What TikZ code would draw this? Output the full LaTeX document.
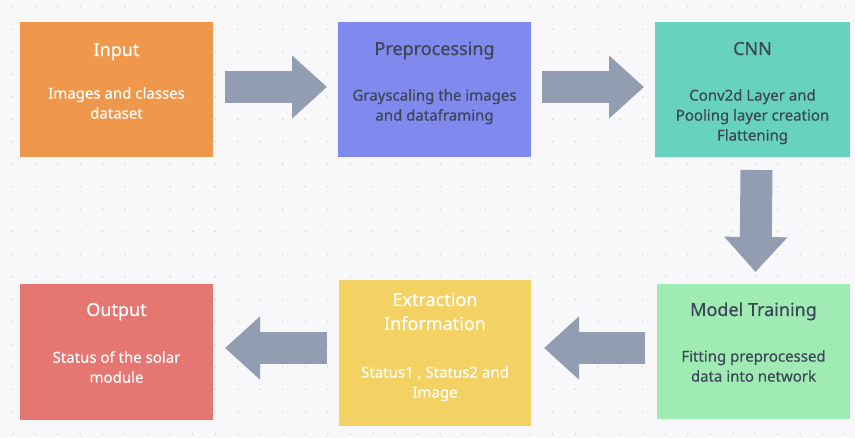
\documentclass[tikz,border=0pt]{standalone}
\usepackage{fontspec}
\setmainfont{Noto Sans}[FakeBold=0.35]
\usetikzlibrary{arrows.meta}
\definecolor{bgc}{HTML}{F8F8FA}
\definecolor{dotc}{HTML}{D6D7DE}
\definecolor{cin}{HTML}{EF974A}
\definecolor{cpre}{HTML}{7F89EE}
\definecolor{ccnn}{HTML}{66D2BF}
\definecolor{cmt}{HTML}{A0EBB4}
\definecolor{cext}{HTML}{F3D162}
\definecolor{cout}{HTML}{E57671}
\definecolor{carr}{HTML}{939DB1}
\definecolor{dtext}{HTML}{3B4656}
\tikzset{
  box/.style={draw=none, inner sep=0pt, outer sep=0pt, anchor=north west},
  ttl/.style={anchor=base, inner sep=0pt, font=\fontsize{18}{24}\selectfont, align=center},
  bdy/.style={anchor=north, inner sep=0pt, font=\fontsize{15}{20}\selectfont, align=center, execute at begin node=\strut},
  wt/.style={text=white},
  dk/.style={text=dtext},
  blockarrow/.style={draw=carr, line width=32pt, line cap=butt, -{Triangle[length=35pt,width=61pt]}},
}
\begin{document}
\begin{tikzpicture}[x=1pt,y=-1pt]
\fill[bgc] (0,0) rectangle (855,438);
\useasboundingbox (0,0) rectangle (855,438);
\foreach \i in {0,...,37} {
  \foreach \j in {0,...,19} {
    \fill[dotc] (12.7+22.5*\i, 6.7+22.5*\j) circle (0.9);
  }
}
% boxes
\node[box, fill=cin, minimum width=193pt, minimum height=135pt] (in) at (20,22) {};
\node[box, fill=cpre, minimum width=193pt, minimum height=135pt] (pre) at (338,22) {};
\node[box, fill=ccnn, minimum width=195pt, minimum height=135pt] (cnn) at (655,22) {};
\node[box, fill=cmt, minimum width=193pt, minimum height=135pt] (mt) at (657,284) {};
\node[box, fill=cext, minimum width=192pt, minimum height=146pt] (ext) at (339,280) {};
\node[box, fill=cout, minimum width=193pt, minimum height=136pt] (out) at (20,284) {};
% titles
\node[ttl, wt] (inT) at ([yshift=-34pt]in.north) {Input};
\node[ttl, dk] (preT) at ([yshift=-33pt]pre.north) {Preprocessing};
\node[ttl, dk] (cnnT) at ([yshift=-33pt]cnn.north) {CNN};
\node[ttl, dk] (mtT) at ([yshift=-32pt]mt.north) {Model Training};
\node[ttl, wt] (extT) at ([yshift=-50pt]ext.north) {Extraction\\Information};
\node[ttl, wt] (outT) at ([yshift=-32pt]out.north) {Output};
% bodies
\node[bdy, wt] (inB) at ([yshift=-65pt]in.north) {Images and classes\\dataset};
\node[bdy, dk] (preB) at ([yshift=-67pt]pre.north) {Grayscaling the images\\and dataframing};
\node[bdy, dk] (cnnB) at ([yshift=-67pt]cnn.north) {Conv2d Layer and\\Pooling layer creation\\Flattening};
\node[bdy, dk] (mtB) at ([yshift=-66pt]mt.north) {Fitting preprocessed\\data into network};
\node[bdy, wt] (extB) at ([yshift=-86pt]ext.north) {Status1 , Status2 and\\Image};
\node[bdy, wt] (outB) at ([yshift=-67pt]out.north) {Status of the solar\\module};
% arrows
\draw[blockarrow] ([xshift=12pt,yshift=2.5pt]in.east) -- ([xshift=-11pt,yshift=2.5pt]pre.west);
\draw[blockarrow] ([xshift=11pt,yshift=2.5pt]pre.east) -- ([xshift=-11pt,yshift=2.5pt]cnn.west);
\draw[blockarrow] ([xshift=4pt,yshift=-13pt]cnn.south) -- ([xshift=2pt,yshift=12pt]mt.north);
\draw[blockarrow] ([xshift=-12pt,yshift=3.5pt]mt.west) -- ([xshift=13pt,yshift=5pt]ext.east);
\draw[blockarrow] ([xshift=-12pt,yshift=5pt]ext.west) -- ([xshift=12pt,yshift=4pt]out.east);
\end{tikzpicture}
\end{document}
